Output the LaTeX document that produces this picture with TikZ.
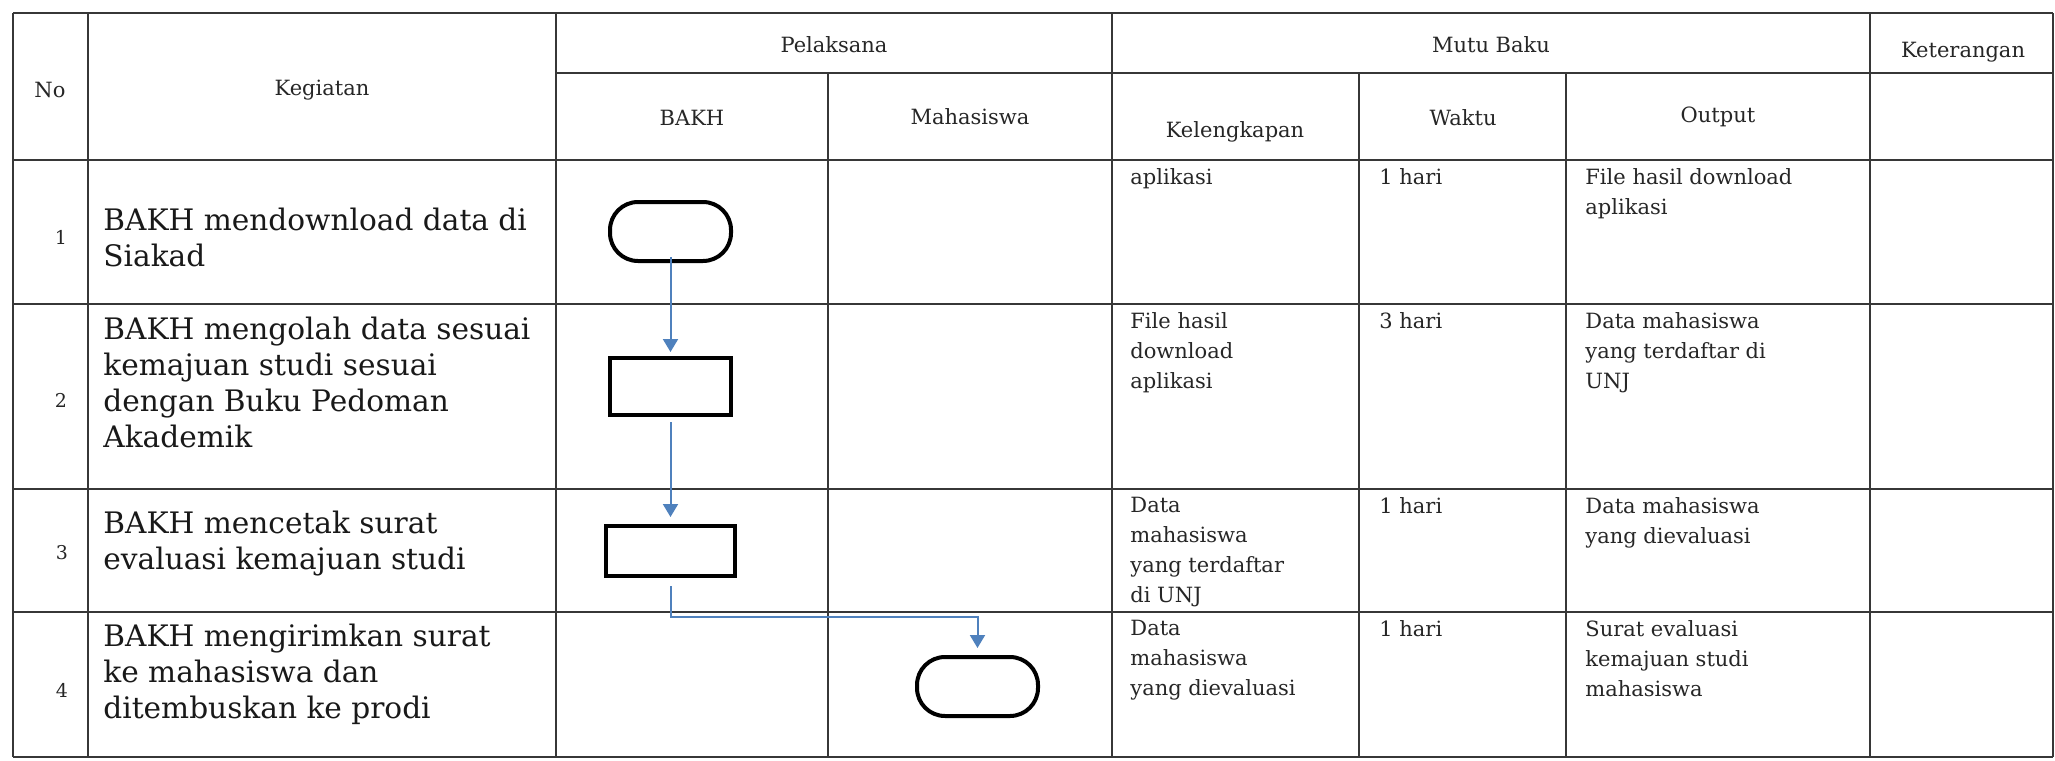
\documentclass[tikz,border=0pt]{standalone}
\usepackage{fontspec}
\setmainfont{DejaVu Serif}
\usetikzlibrary{arrows.meta,positioning}
\definecolor{flowblue}{RGB}{79,129,189}
\definecolor{rulegray}{RGB}{55,55,55}
\tikzset{
  rule/.style={draw=rulegray, line width=0.6pt},
  head/.style={inner sep=0pt, text=black!85, font=\fontsize{10.5}{13}\selectfont},
  num/.style={inner sep=0pt, text=black!85, font=\fontsize{9.5}{11}\selectfont},
  task/.style={anchor=north west, align=left, inner sep=0pt, text=black!90, font=\fontsize{14.8}{18}\selectfont},
  cell/.style={anchor=north west, align=left, inner sep=0pt, text=black!85, font=\fontsize{10.5}{15}\selectfont},
  term/.style={draw, line width=2pt, rounded corners=14pt, minimum width=60.5pt, minimum height=29.5pt, inner sep=0pt},
  proc/.style={draw, line width=2pt, inner sep=0pt},
  flow/.style={draw=flowblue, line width=1pt, -{Triangle[width=7.5pt,length=6.5pt]}},
}
\begin{document}
\begin{tikzpicture}[x=0.5pt, y=-0.5pt, node distance=46.5pt]
\useasboundingbox (0,0) rectangle (2055,760);
% table rules
\foreach \y in {13,160,304,489,612,757} \draw[rule] (13,\y) -- (2053,\y);
\draw[rule] (556,73) -- (2053,73);
\foreach \x in {13,88,556,1112,1870,2053} \draw[rule] (\x,13) -- (\x,757);
\foreach \x in {828,1359,1566} \draw[rule] (\x,73) -- (\x,757);
% header
\node[head] (no) at (50,90) {No};
\node[head] (keg) at (322,90) {Kegiatan};
\node[head] (pel) at (834,45) {Pelaksana};
\node[head] (mutu) at (1491,45) {Mutu Baku};
\node[head] (ket) at (1963,52) {Keterangan};
\node[head] (bakh) at (692,118) {BAKH};
\node[head] (mhs) at (970,117) {Mahasiswa};
\node[head] (lengkap) at (1235,132) {Kelengkapan};
\node[head] (waktu) at (1463,118) {Waktu};
\node[head] (output) at (1718,117) {Output};
% row numbers
\node[num] (n1) at (61,237) {1};
\node[num] (n2) at (61,400) {2};
\node[num] (n3) at (62,553) {3};
\node[num] (n4) at (62,690) {4};
% kegiatan
\node[task] (k1) at (103,208) {BAKH mendownload data di\\Siakad};
\node[task] (k2) at (103,317) {BAKH mengolah data sesuai\\kemajuan studi sesuai\\dengan Buku Pedoman\\Akademik};
\node[task] (k3) at (103,511) {BAKH mencetak surat\\evaluasi kemajuan studi};
\node[task] (k4) at (103,624) {BAKH mengirimkan surat\\ke mahasiswa dan\\ditembuskan ke prodi};
% mutu baku
\node[cell] (l1) at (1130,168) {aplikasi};
\node[cell] (w1) at (1379,168) {1 hari};
\node[cell] (o1) at (1585,168) {File hasil download\\aplikasi};
\node[cell] (l2) at (1130,312) {File hasil\\download\\aplikasi};
\node[cell] (w2) at (1379,312) {3 hari};
\node[cell] (o2) at (1585,312) {Data mahasiswa\\yang terdaftar di\\UNJ};
\node[cell] (l3) at (1130,497) {Data\\mahasiswa\\yang terdaftar\\di UNJ};
\node[cell] (w3) at (1379,497) {1 hari};
\node[cell] (o3) at (1585,497) {Data mahasiswa\\yang dievaluasi};
\node[cell] (l4) at (1130,620) {Data\\mahasiswa\\yang dievaluasi};
\node[cell] (w4) at (1379,620) {1 hari};
\node[cell] (o4) at (1585,620) {Surat evaluasi\\kemajuan studi\\mahasiswa};
% flow
\node[term] (T1) at (670.5,231.5) {};
\node[proc, minimum width=60.5pt, minimum height=28.5pt] (P2) [below=of T1] {};
\node[proc, minimum width=64.5pt, minimum height=25pt] (P3) [below=53.5pt of P2] {};
\node[term] (T4) at (977.5,686.5) {};
\draw[flow, shorten <=-3pt, shorten >=2pt] (T1.south) -- (P2.north);
\draw[flow, shorten <=2.5pt, shorten >=3.5pt] (P2.south) -- (P3.north);
\draw[flow, shorten <=4pt, shorten >=3.5pt] (P3.south) -- ++(0,39) -| (T4.north);
\end{tikzpicture}
\end{document}
